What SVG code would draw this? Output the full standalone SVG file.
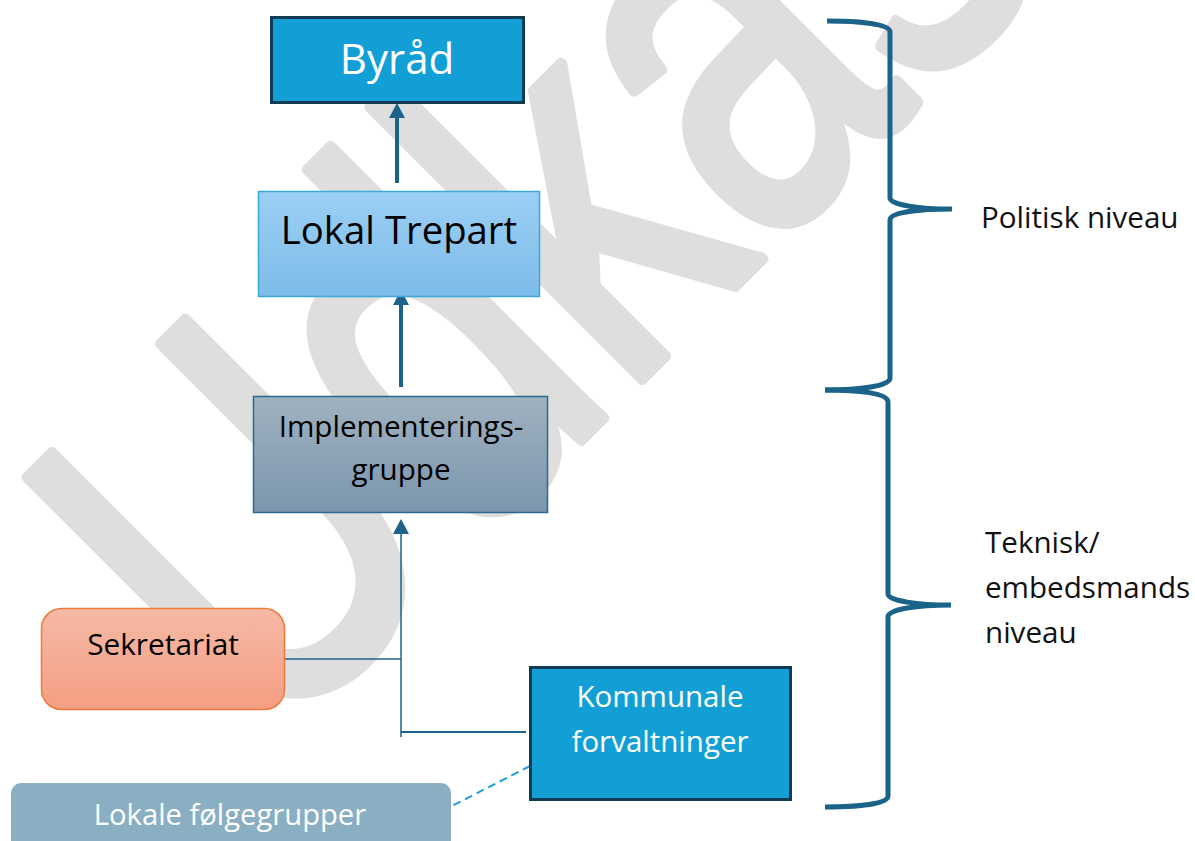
<svg xmlns="http://www.w3.org/2000/svg" width="1195" height="841" viewBox="0 0 1195 841">
<style>
.lbl{font-family:"Open Sans","Liberation Sans",sans-serif;text-anchor:middle}
.side{font-family:"Open Sans","Liberation Sans",sans-serif;font-size:29.6px;fill:#111}
.wm{font-family:"Liberation Sans",Arial,sans-serif;font-size:530px;fill:#dedede;stroke:#dedede;stroke-width:12;stroke-linejoin:round}
.conn{fill:none;stroke:#1b6388}
.brace{fill:none;stroke:#1b6388;stroke-width:5}
</style>
<defs>
<linearGradient id="gLT" x1="0" y1="0" x2="0" y2="1"><stop offset="0" stop-color="#9ccff4"/><stop offset="1" stop-color="#7dbce9"/></linearGradient>
<linearGradient id="gIG" x1="0" y1="0" x2="0" y2="1"><stop offset="0" stop-color="#a0b2c1"/><stop offset="1" stop-color="#7b95ac"/></linearGradient>
<linearGradient id="gSK" x1="0" y1="0" x2="0" y2="1"><stop offset="0" stop-color="#f5b9a6"/><stop offset="1" stop-color="#f49f82"/></linearGradient>
<marker id="ah" viewBox="0 0 15 16" refX="6" refY="8" markerWidth="15" markerHeight="16" markerUnits="userSpaceOnUse" orient="auto"><path d="M0,0 L15,8 L0,16 z" fill="#1b6388"/></marker>
</defs>
<rect width="1195" height="841" fill="#fff"/>
<text class="wm" transform="translate(263,758) rotate(-45) scale(0.75,1)">Udkast</text>

<g id="connectors">
<line class="conn" x1="397" y1="183" x2="397" y2="112" stroke-width="4" marker-end="url(#ah)"/>
<line class="conn" x1="401" y1="387" x2="401" y2="299" stroke-width="4" marker-end="url(#ah)"/>
<line class="conn" x1="401" y1="737" x2="401" y2="528" stroke-width="1.5" marker-end="url(#ah)"/>
<line class="conn" x1="283" y1="659" x2="401" y2="659" stroke-width="1.5" stroke="#2d6f93"/>
<line class="conn" x1="401" y1="732" x2="526" y2="732" stroke-width="2" stroke="#5a89a5"/>
<line x1="530" y1="766" x2="450" y2="807" stroke="#1ea0dc" stroke-width="2" stroke-dasharray="8 5"/>
</g>

<g id="byraad">
<rect x="271.5" y="17.5" width="252" height="85" fill="#129fd6" stroke="#0f3b55" stroke-width="3"/>
<text class="lbl" x="397" y="74" font-size="42" fill="#fff">Byråd</text>
</g>
<g id="lokal-trepart">
<rect x="258.5" y="191.5" width="281" height="105" fill="url(#gLT)" stroke="#3aa7dc" stroke-width="1.5"/>
<text class="lbl" x="399" y="244" font-size="38.3" fill="#000">Lokal Trepart</text>
</g>
<g id="implementeringsgruppe">
<rect x="253.5" y="396.5" width="294" height="116" fill="url(#gIG)" stroke="#2a6a8f" stroke-width="1.5"/>
<text class="lbl" x="401" y="437" font-size="29.6" fill="#000">Implementerings-</text>
<text class="lbl" x="401" y="480" font-size="29.6" fill="#000">gruppe</text>
</g>
<g id="sekretariat">
<rect x="41.5" y="608.5" width="243" height="101" rx="20" fill="url(#gSK)" stroke="#ec7a3c" stroke-width="1.5"/>
<text class="lbl" x="163" y="655" font-size="29.8" fill="#000">Sekretariat</text>
</g>
<g id="kommunale">
<rect x="530.5" y="667.5" width="260" height="132" fill="#129fd6" stroke="#0f3b55" stroke-width="3"/>
<text class="lbl" x="660" y="707" font-size="29.5" fill="#fff">Kommunale</text>
<text class="lbl" x="660" y="752" font-size="29.5" fill="#fff">forvaltninger</text>
</g>
<g id="lokale-folgegrupper">
<rect x="11" y="783" width="440" height="70" rx="10" fill="#8aafc2"/>
<text class="lbl" x="230" y="825" font-size="29.2" fill="#fff">Lokale følgegrupper</text>
</g>

<g id="brace-politisk">
<path class="brace" d="M827,21 C860,21 890,24 890,32 L890,198 C890,205 920,209 952,209 C920,209 890,212 890,220 L890,378 C890,386 860,390 825,390"/>
<text class="side" x="981" y="228">Politisk niveau</text>
</g>
<g id="brace-teknisk">
<path class="brace" d="M825,390 C858,390 888,393 888,402 L888,594 C888,601 918,605 951,605 C918,605 888,609 888,617 L888,796 C888,804 858,807 825,807"/>
<text class="side" x="985" y="553">Teknisk/</text>
<text class="side" x="985" y="598">embedsmands</text>
<text class="side" x="985" y="643">niveau</text>
</g>
</svg>
